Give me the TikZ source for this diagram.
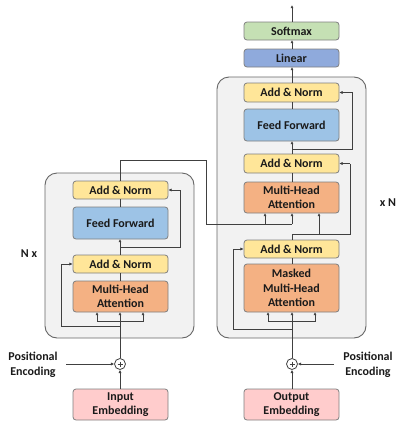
\documentclass[tikz,border=0pt]{standalone}
\usepackage{fontspec}
\setmainfont{Carlito}
\usetikzlibrary{arrows.meta}
\definecolor{cAN}{HTML}{FFE699}
\definecolor{cFF}{HTML}{9DC3E6}
\definecolor{cMHA}{HTML}{F4B183}
\definecolor{cSM}{HTML}{C5E0B4}
\definecolor{cLIN}{HTML}{8FAADC}
\definecolor{cEMB}{HTML}{FFCCCC}
\definecolor{cBOX}{HTML}{F2F2F2}
\definecolor{cLINE}{HTML}{404040}
\definecolor{cBORD}{HTML}{7F7F7F}
\definecolor{cTXT}{HTML}{1A1A1A}
\tikzset{
  blk/.style={draw=cBORD, line width=0.8pt, rounded corners=3pt, minimum width=95pt, inner sep=0pt, align=center, text=cTXT, font=\fontsize{12}{14.3}\selectfont\bfseries},
  stack/.style={draw=cBORD!80!black, line width=0.9pt, fill=cBOX, rounded corners=12pt},
  wire/.style={draw=cLINE, line width=0.8pt},
  arr/.style={wire, -{Latex[length=3.2pt,width=3.2pt]}},
  lbl/.style={text=cTXT, align=center, font=\fontsize{12}{14.5}\selectfont\bfseries},
  addc/.style={circle, draw=cLINE, line width=0.8pt, fill=white, minimum size=11pt, inner sep=0pt}
}
\begin{document}
\begin{tikzpicture}[x=1pt,y=-1pt]
\useasboundingbox (0,0) rectangle (407,426);
% stacks
\draw[stack] (45,173) rectangle (194,338);
\draw[stack] (217,77) rectangle (366,338);
% encoder
\node[blk, fill=cAN, minimum height=18pt] (eAN2) at (120.5,190) {Add \& Norm};
\node[blk, fill=cFF, minimum height=32pt] (eFF) at (120.5,223) {Feed Forward};
\node[blk, fill=cAN, minimum height=18pt] (eAN1) at (120.5,264) {Add \& Norm};
\node[blk, fill=cMHA, minimum height=31pt] (eMHA) at (120.5,296.5) {Multi-Head\\Attention};
\node[addc] (eadd) at (120,364) {};
\draw[cLINE, line width=0.6pt] (117.5,364) -- (122.5,364) (120,361.5) -- (120,366.5);
\node[blk, fill=cEMB, minimum height=31pt] (inEmb) at (120.5,404.5) {Input\\Embedding};
\node[lbl] (pe1) at (33,365) {Positional\\Encoding};
\node[lbl] (nx) at (29,254) {N x};
% decoder
\node[blk, fill=cSM, minimum height=18pt] (sm) at (291.5,31) {Softmax};
\node[blk, fill=cLIN, minimum height=18pt] (lin) at (291.5,58) {Linear};
\node[blk, fill=cAN, minimum height=19pt] (dAN3) at (291.5,92.5) {Add \& Norm};
\node[blk, fill=cFF, minimum height=32pt] (dFF) at (291.5,125) {Feed Forward};
\node[blk, fill=cAN, minimum height=19pt] (dAN2) at (291.5,163.5) {Add \& Norm};
\node[blk, fill=cMHA, minimum height=31pt] (dMHA) at (291.5,197.5) {Multi-Head\\Attention};
\node[blk, fill=cAN, minimum height=18pt] (dAN1) at (291.5,249) {Add \& Norm};
\node[blk, fill=cMHA, minimum height=48pt] (dMMHA) at (291.5,288) {Masked\\Multi-Head\\Attention};
\node[addc] (dadd) at (292,364) {};
\draw[cLINE, line width=0.6pt] (289.5,364) -- (294.5,364) (292,361.5) -- (292,366.5);
\node[blk, fill=cEMB, minimum height=31pt] (outEmb) at (291.5,404.5) {Output\\Embedding};
\node[lbl] (pe2) at (368,365) {Positional\\Encoding};
\node[lbl] (xn) at (388,203) {x N};
\coordinate (out) at (292,5);
% encoder wiring
\draw[arr] (inEmb.north -| eadd) -- (eadd.south);
\draw[arr] (66,364) -- (eadd.west);
\draw[arr] (eadd.north) -- (120,312);
\draw[arr] (120,321) -- (97,321) -- (97,312);
\draw[arr] (120,321) -- (143,321) -- (143,312);
\draw[arr] (120,326) -- (61,326) -- (61,264) -- (eAN1.west);
\draw[wire] (120,281) -- (120,273);
\draw[arr] (120,255) -- (120,239);
\draw[arr] (120,247) -- (180,247) -- (180,190) -- (eAN2.east);
\draw[wire] (120,207) -- (120,199);
\draw[wire] (120,181) -- (120,160) -- (206,160) -- (206,224) -- (292,224);
\draw[arr] (265,224) -- (265,213);
\draw[arr] (292,224) -- (292,213);
% decoder wiring
\draw[arr] (outEmb.north -| dadd) -- (dadd.south);
\draw[arr] (334,364) -- (dadd.east);
\draw[arr] (dadd.north) -- (292,312);
\draw[arr] (292,321) -- (268,321) -- (268,312);
\draw[arr] (292,321) -- (315,321) -- (315,312);
\draw[arr] (292,329) -- (233,329) -- (233,249) -- (dAN1.west);
\draw[wire] (292,264) -- (292,258);
\draw[wire] (292,240) -- (292,234) -- (350,234) -- (350,163.5);
\draw[arr] (350,163.5) -- (dAN2.east);
\draw[arr] (319,234) -- (319,213);
\draw[wire] (292,182) -- (292,173);
\draw[arr] (292,154) -- (292,141);
\draw[arr] (292,149) -- (352,149) -- (352,92.5) -- (dAN3.east);
\draw[wire] (292,109) -- (292,102);
\draw[arr] (292,83) -- (292,67);
\draw[arr] (292,49) -- (292,40);
\draw[arr] (292,22) -- (out);
\end{tikzpicture}
\end{document}
